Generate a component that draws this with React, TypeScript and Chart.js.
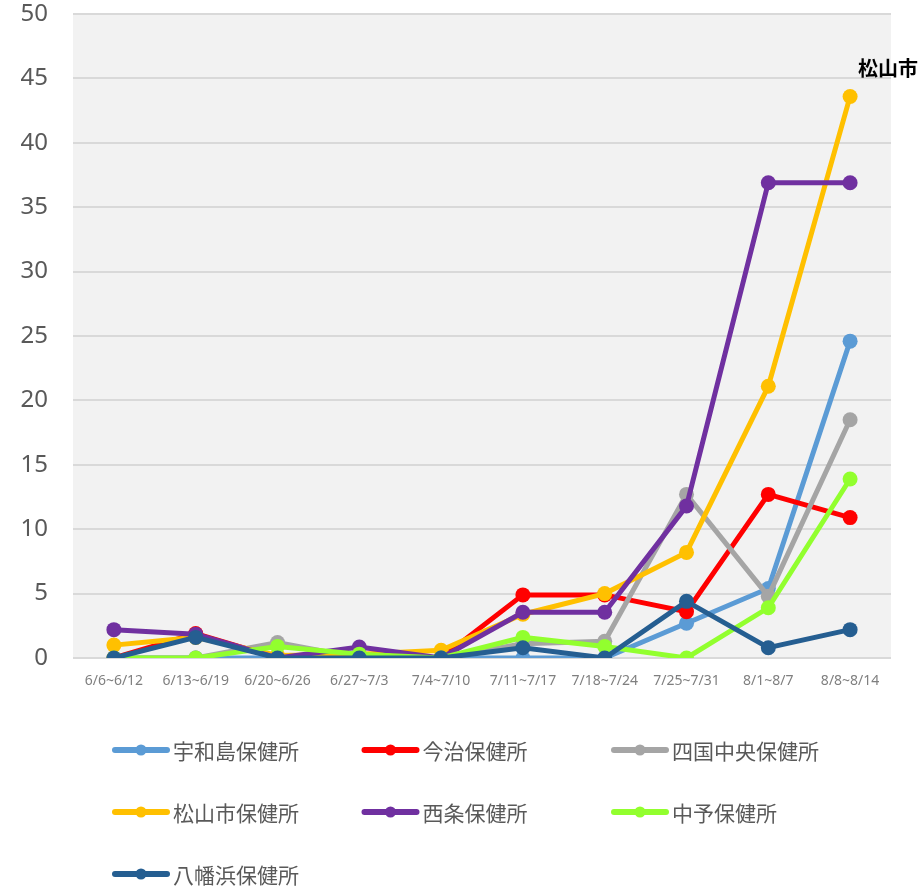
import React, { useEffect, useRef } from "react";
import { Chart, registerables } from "chart.js";

Chart.register(...registerables);

const categories = ["6/6~6/12", "6/13~6/19", "6/20~6/26", "6/27~7/3", "7/4~7/10", "7/11~7/17", "7/18~7/24", "7/25~7/31", "8/1~8/7", "8/8~8/14"];

const uwajima = [0, 0, 0, 0, 0, 0, 0, 2.7, 5.4, 24.6];
const imabari = [0, 1.9, 0, 0, 0, 4.9, 4.9, 3.6, 12.7, 10.9];
const shikokuchuo = [0, 0, 1.2, 0, 0, 1.1, 1.3, 12.7, 4.8, 18.5];
const matsuyama = [1.0, 1.6, 0.2, 0.3, 0.6, 3.4, 5.0, 8.2, 21.1, 43.6];
const saijo = [2.2, 1.85, 0, 0.85, 0, 3.55, 3.55, 11.8, 36.9, 36.9];
const chuyo = [0, 0, 0.9, 0.3, 0, 1.6, 0.9, 0, 3.9, 13.9];
const yawatahama = [0, 1.6, 0, 0, 0, 0.8, 0, 4.4, 0.8, 2.2];

const seriesNames = ["宇和島保健所", "今治保健所", "四国中央保健所", "松山市保健所", "西条保健所", "中予保健所", "八幡浜保健所"];
const seriesColors = ["#5B9BD5", "#FF0000", "#A5A5A5", "#FFC000", "#7030A0", "#92FF2E", "#255E91"];
const seriesValues = [uwajima, imabari, shikokuchuo, matsuyama, saijo, chuyo, yawatahama];

const yTicks = [0, 5, 10, 15, 20, 25, 30, 35, 40, 45, 50];
const annotationText = "松山市";

const FONT = "'Noto Sans CJK JP', 'Noto Sans', sans-serif";
const NUMFONT = "'Noto Sans', 'Noto Sans CJK JP', sans-serif";

const bgPlugin = {
  id: "bgPlugin",
  beforeDraw(chart: any) {
    const { ctx, chartArea } = chart;
    ctx.save();
    ctx.fillStyle = "#F2F2F2";
    ctx.fillRect(chartArea.left, chartArea.top, chartArea.right - chartArea.left, chartArea.bottom - chartArea.top);
    ctx.restore();
  },
  afterDraw(chart: any) {
    const { ctx } = chart;
    ctx.save();
    chart.data.datasets.forEach((ds: any, i: number) => {
      const col = i % 3;
      const row = Math.floor(i / 3);
      const x0 = 115 + col * 249.5;
      const y = 750 + row * 62;
      ctx.strokeStyle = ds.borderColor;
      ctx.lineWidth = 6;
      ctx.lineCap = "round";
      ctx.beginPath();
      ctx.moveTo(x0, y);
      ctx.lineTo(x0 + 52, y);
      ctx.stroke();
      ctx.fillStyle = ds.borderColor;
      ctx.beginPath();
      ctx.arc(x0 + 26, y, 5.5, 0, Math.PI * 2);
      ctx.fill();
      ctx.fillStyle = "#595959";
      ctx.font = `21px ${FONT}`;
      ctx.textBaseline = "middle";
      ctx.textAlign = "left";
      ctx.fillText(ds.label, x0 + 58, y + 1);
    });
    const meta = chart.getDatasetMeta(3);
    const pt = meta.data[meta.data.length - 1];
    if (pt) {
      ctx.fillStyle = "#000000";
      ctx.font = `bold 20px ${FONT}`;
      ctx.textAlign = "left";
      ctx.textBaseline = "middle";
      ctx.fillText(annotationText, pt.x + 8, pt.y - 28);
    }
    ctx.restore();
  },
};

export default function App() {
  const ref = useRef<HTMLCanvasElement>(null);
  useEffect(() => {
    if (!ref.current) return;
    const n = seriesNames.length;
    const chart = new Chart(ref.current, {
      type: "line",
      data: {
        labels: categories,
        datasets: seriesNames.map((name, i) => ({
          label: name,
          data: seriesValues[i],
          borderColor: seriesColors[i],
          backgroundColor: seriesColors[i],
          pointBackgroundColor: seriesColors[i],
          pointBorderColor: seriesColors[i],
          borderWidth: 5,
          pointRadius: 7.5,
          pointBorderWidth: 0,
          tension: 0,
          order: n - i,
        })),
      },
      options: {
        animation: false,
        responsive: false,
        layout: { autoPadding: false, padding: { top: 14, right: 32, left: 0, bottom: 0 } },
        plugins: { legend: { display: false }, tooltip: { enabled: false } },
        scales: {
          x: {
            type: "category",
            offset: true,
            grid: { display: false },
            border: { display: false },
            ticks: { color: "#7F7F7F", font: { size: 14, family: NUMFONT }, padding: 7, maxRotation: 0, autoSkip: false },
            afterFit(s: any) {
              s.height = 231;
            },
          },
          y: {
            min: 0,
            max: 50,
            afterBuildTicks(s: any) {
              s.ticks = yTicks.map((v) => ({ value: v }));
            },
            grid: { color: "#D9D9D9", lineWidth: 2, drawTicks: false },
            border: { display: false },
            ticks: { color: "#595959", font: { size: 24, family: NUMFONT }, padding: 25 },
            afterFit(s: any) {
              s.width = 73;
              s.paddingTop = 0;
              s.paddingBottom = 0;
            },
          },
        },
      },
      plugins: [bgPlugin],
    });
    return () => chart.destroy();
  }, []);
  return (
    <div style={{ position: "absolute", left: 0, top: 0, width: 923, height: 889 }}>
      <canvas ref={ref} width={923} height={889} />
    </div>
  );
}
